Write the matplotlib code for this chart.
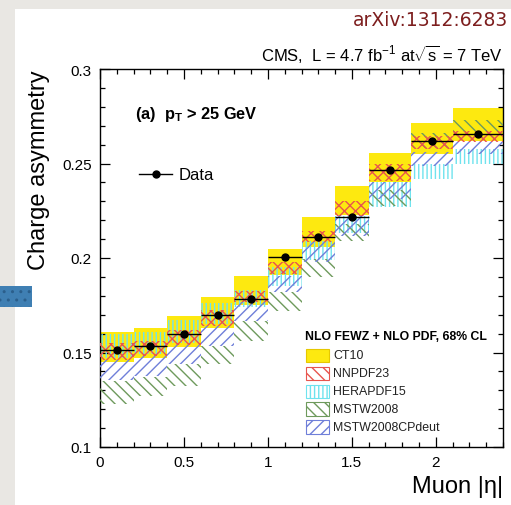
import matplotlib
matplotlib.use("Agg")
import matplotlib.pyplot as plt
from matplotlib.patches import Rectangle
import numpy as np

plt.rcParams['font.family'] = ['Liberation Sans', 'DejaVu Sans']
plt.rcParams['mathtext.fontset'] = 'custom'
plt.rcParams['mathtext.rm'] = 'Liberation Sans'
plt.rcParams['mathtext.it'] = 'Liberation Sans:italic'
plt.rcParams['mathtext.bf'] = 'Liberation Sans:bold'
plt.rcParams['hatch.linewidth'] = 1.0

# ---------------- data ----------------
bin_edges = [0.0, 0.2, 0.4, 0.6, 0.8, 1.0, 1.2, 1.4, 1.6, 1.85, 2.1, 2.4]
data_val = [0.1515, 0.1533, 0.1596, 0.1700, 0.1783, 0.2005, 0.2113, 0.2219, 0.2466, 0.2621, 0.2656]
data_err = [0.0015, 0.0015, 0.0015, 0.0015, 0.0015, 0.0015, 0.0015, 0.0015, 0.0015, 0.0015, 0.0015]

ct10_lo = [0.1450, 0.1470, 0.1530, 0.1630, 0.1750, 0.1910, 0.2060, 0.2230, 0.2400, 0.2550, 0.2620]
ct10_hi = [0.1607, 0.1630, 0.1695, 0.1792, 0.1905, 0.2045, 0.2215, 0.2380, 0.2556, 0.2714, 0.2795]
nnpdf_lo = [0.1460, 0.1480, 0.1540, 0.1640, 0.1767, 0.1915, 0.2083, 0.2224, 0.2410, 0.2577, 0.2612]
nnpdf_hi = [0.1550, 0.1560, 0.1620, 0.1725, 0.1827, 0.1980, 0.2145, 0.2303, 0.2497, 0.2647, 0.2674]
hera_lo = [0.1470, 0.1490, 0.1550, 0.1650, 0.1740, 0.1850, 0.1990, 0.2130, 0.2270, 0.2418, 0.2497]
hera_hi = [0.1598, 0.1610, 0.1670, 0.1760, 0.1830, 0.1950, 0.2090, 0.2220, 0.2400, 0.2497, 0.2577]
mstw_lo = [0.1230, 0.1270, 0.1323, 0.1440, 0.1560, 0.1720, 0.1900, 0.2090, 0.2275, 0.2580, 0.2630]
mstw_hi = [0.1350, 0.1370, 0.1440, 0.1534, 0.1667, 0.1820, 0.1995, 0.2180, 0.2360, 0.2660, 0.2730]
cpdeut_lo = [0.1355, 0.1376, 0.1440, 0.1534, 0.1667, 0.1820, 0.1980, 0.2118, 0.2310, 0.2487, 0.2550]
cpdeut_hi = [0.1460, 0.1480, 0.1545, 0.1640, 0.1767, 0.1905, 0.2083, 0.2225, 0.2400, 0.2560, 0.2613]

legend_labels = ['CT10', 'NNPDF23', 'HERAPDF15', 'MSTW2008', 'MSTW2008CPdeut']

# ---------------- figure ----------------
W, H = 511, 506
fig = plt.figure(figsize=(W / 100, H / 100), dpi=100)
fig.patch.set_facecolor('#e9e7e3')

def fx(x):
    return x / W

def fy(y):
    return 1 - y / H

# white slide area
fig.patches.append(Rectangle((fx(15), 0), 1 - fx(15), fy(10), transform=fig.transFigure,
                             facecolor='white', edgecolor='none', zorder=-10))
# decorative blue square
fig.patches.append(Rectangle((0, fy(308)), fx(32), fy(287) - fy(308), transform=fig.transFigure,
                             facecolor='#3f7fb3', edgecolor='#2b5f8c', hatch='..', linewidth=0, zorder=-5))

ax = fig.add_axes([fx(100), fy(448), fx(503) - fx(100), fy(70) - fy(448)])
ax.set_zorder(1)
ax.set_facecolor('none')

edges = np.array(bin_edges)
left = edges[:-1]
width = np.diff(edges)
centers = left + width / 2

col_ct10 = '#fde910'
col_nnpdf = '#e8554e'
col_hera = '#6fe3ee'
col_mstw = '#6e9a5c'
col_cpdeut = '#6f7fd9'

def band(lo, hi, **kw):
    lo = np.array(lo)
    hi = np.array(hi)
    ax.bar(left, hi - lo, width=width, bottom=lo, align='edge', **kw)

band(ct10_lo, ct10_hi, color=col_ct10, linewidth=0, zorder=1)
band(hera_lo, hera_hi, facecolor='none', edgecolor=col_hera, hatch='||||', linewidth=0, zorder=2)
band(mstw_lo, mstw_hi, facecolor='none', edgecolor=col_mstw, hatch='\\\\\\', linewidth=0, zorder=3)
band(cpdeut_lo, cpdeut_hi, facecolor='none', edgecolor=col_cpdeut, hatch='///', linewidth=0, zorder=4)
band(nnpdf_lo, nnpdf_hi, facecolor='none', edgecolor=col_nnpdf, hatch='xxx', linewidth=0, zorder=5)

ax.errorbar(centers, data_val, yerr=data_err, xerr=width / 2, fmt='o', color='black',
            markersize=5, elinewidth=1, capsize=0, zorder=10)

ax.set_xlim(0, 2.4)
ax.set_ylim(0.1, 0.3)
ax.set_xticks([0, 0.5, 1, 1.5, 2])
ax.set_xticklabels(['0', '0.5', '1', '1.5', '2'])
ax.set_xticks(np.arange(0, 2.41, 0.1), minor=True)
ax.set_yticks([0.1, 0.15, 0.2, 0.25, 0.3])
ax.set_yticklabels(['0.1', '0.15', '0.2', '0.25', '0.3'])
ax.set_yticks(np.arange(0.1, 0.3001, 0.01), minor=True)
ax.tick_params(which='both', direction='in', top=True, right=True, labelsize=11, colors='black')
ax.tick_params(which='major', length=7, width=0.9)
ax.tick_params(which='minor', length=3.5, width=0.9)
ax.tick_params(axis='y', pad=6)
ax.tick_params(axis='x', pad=6)
for s in ax.spines.values():
    s.set_linewidth(1.0)

# axis titles
fig.text(fx(39), fy(70), 'Charge asymmetry', rotation=90, ha='center', va='top', fontsize=17)
fig.text(fx(503), fy(487), r'Muon |η|', ha='right', va='center', fontsize=17)

# header texts
fig.text(fx(508), fy(21), 'arXiv:1312:6283', ha='right', va='center', fontsize=13.5,
         color='#7d1e1e', family='DejaVu Sans')
fig.text(fx(503), fy(54), r'CMS,  L = 4.7 fb$^{\mathregular{-1}}$ at$\sqrt{\mathregular{s}}$ = 7 TeV',
         ha='right', va='center', fontsize=12)

fig.text(fx(135), fy(114), r'(a)  $\mathbf{p}_{\mathbf{T}}$ > 25 GeV', ha='left', va='center',
         fontsize=11.8, fontweight='bold')

# Data legend
fig.lines.append(plt.Line2D([fx(139), fx(172)], [fy(175), fy(175)], transform=fig.transFigure,
                            color='black', linewidth=1))
fig.lines.append(plt.Line2D([fx(156)], [fy(175)], transform=fig.transFigure, marker='o',
                            color='black', markersize=5))
fig.text(fx(179), fy(175), 'Data', ha='left', va='center', fontsize=12)

# PDF legend
fig.text(fx(305), fy(337), 'NLO FEWZ + NLO PDF, 68% CL', ha='left', va='center',
         fontsize=8.8, fontweight='bold')
leg_y = [356, 374, 392, 410, 428]
leg_styles = [
    dict(facecolor=col_ct10, edgecolor='#e6c800', hatch=None),
    dict(facecolor='white', edgecolor=col_nnpdf, hatch='\\\\\\'),
    dict(facecolor='white', edgecolor=col_hera, hatch='||||'),
    dict(facecolor='white', edgecolor=col_mstw, hatch='\\\\\\'),
    dict(facecolor='white', edgecolor=col_cpdeut, hatch='///'),
]
for lab, yy, st in zip(legend_labels, leg_y, leg_styles):
    r = Rectangle((fx(306), fy(yy + 6.5)), fx(329) - fx(306), fy(yy - 6.5) - fy(yy + 6.5),
                  transform=fig.transFigure, linewidth=0.8, zorder=5, **st)
    fig.patches.append(r)
    fig.text(fx(333), fy(yy), lab, ha='left', va='center', fontsize=8.9, color='#222222')

fig.savefig('out.png', dpi=100, facecolor=fig.get_facecolor())
